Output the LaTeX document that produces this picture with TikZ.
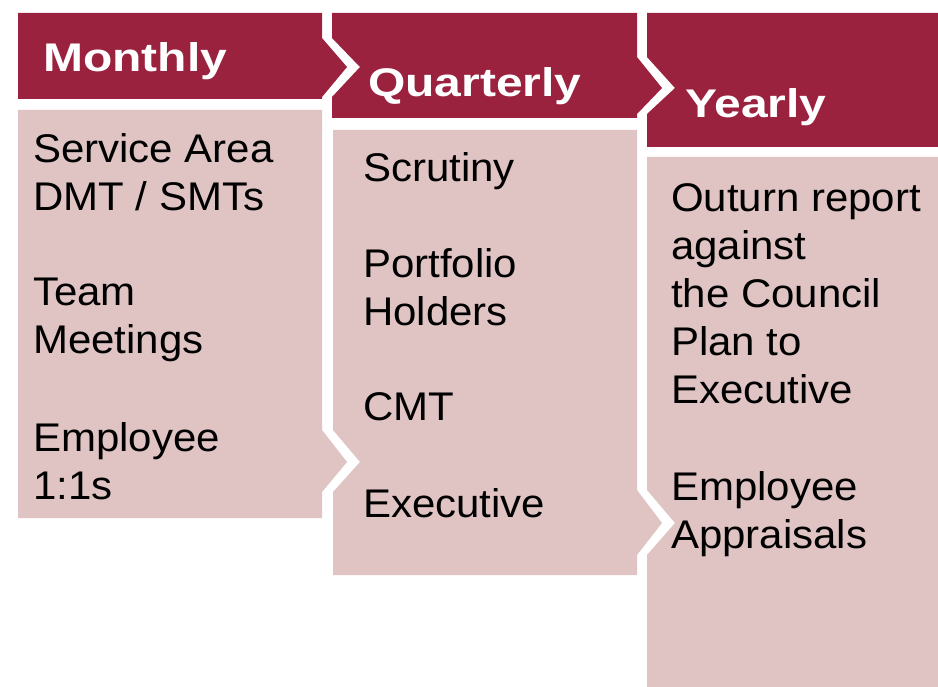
\documentclass[tikz,border=0pt]{standalone}
\usepackage{fontspec}
\setmainfont{Liberation Sans}
\newfontfamily\headfont[FakeStretch=1.2]{Liberation Sans}
\newfontfamily\bodyfont[FakeStretch=1.05]{Liberation Sans}
\definecolor{headred}{RGB}{155,34,63}
\definecolor{bodypink}{RGB}{224,196,196}
\tikzset{
  head/.style={fill=headred},
  body/.style={fill=bodypink},
  headtxt/.style={anchor=base west, inner sep=0pt, text=white,
    font=\headfont\bfseries\fontsize{40}{40}\selectfont},
  itemtxt/.style={anchor=north west, inner sep=0pt, align=left,
    font=\bodyfont\fontsize{40}{48}\selectfont}
}
\begin{document}
\begin{tikzpicture}[x=1pt, y=-1pt]
\useasboundingbox[fill=white] (0,0) rectangle (938,687);

% headers
\fill[head] (18,13) -- (322,13) -- (322,38) -- (347,67) -- (322,97) -- (322,99) -- (18,99) -- cycle;
\fill[head] (332,13) -- (637,13) -- (637,57) -- (662,88) -- (637,114) -- (637,118)
  -- (332,118) -- (332,97) -- (360,67) -- (332,38) -- cycle;
\fill[head] (647,13) -- (938,13) -- (938,147) -- (647,147) -- (647,114) -- (675,88) -- (647,57) -- cycle;

% bodies
\fill[body] (18,110) -- (322,110) -- (322,430) -- (347,462) -- (322,492) -- (322,518) -- (18,518) -- cycle;
\fill[body] (333,130) -- (637,130) -- (637,490) -- (662,523) -- (637,555) -- (637,575)
  -- (333,575) -- (333,492) -- (360,462) -- (333,430) -- cycle;
\fill[body] (647,157) -- (938,157) -- (938,687) -- (647,687) -- (647,555) -- (675,523) -- (647,490) -- cycle;

\node[headtxt] (month) at (43,72) {Monthly};
\node[headtxt] (quarter) at (368,97) {Quarterly};
\node[headtxt] (year) at (685,118) {Yearly};

\node[itemtxt] (mService) at (33,133) {Service Area\\DMT / SMTs};
\node[itemtxt] (mTeam) at (33,278) {Team\\Meetings};
\node[itemtxt] (mEmp) at (33,422) {Employee\\1:1s};

\node[itemtxt] (qScrut) at (363,152) {Scrutiny};
\node[itemtxt] (qPort) at (363,248) {Portfolio\\Holders};
\node[itemtxt] (qCMT) at (363,392) {CMT};
\node[itemtxt] (qExec) at (363,488) {Executive};

\node[itemtxt] (yOut) at (671,183) {Outurn report\\against\\the Council\\Plan to\\Executive};
\node[itemtxt] (yApp) at (671,471) {Employee\\Appraisals};
\end{tikzpicture}
\end{document}
